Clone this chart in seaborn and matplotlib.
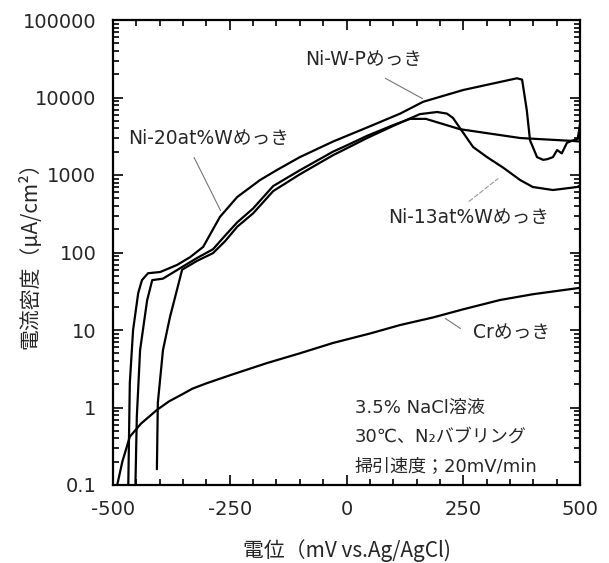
import numpy as np
import pandas as pd
import matplotlib
matplotlib.use("Agg")
import matplotlib.pyplot as plt
from matplotlib.ticker import FixedLocator, LogLocator, NullFormatter, MultipleLocator
import seaborn as sns

# ---------------- data ----------------
niwp_x = [-468, -464, -457, -446, -438, -425, -399, -363, -335, -307, -271, -234,
          -185, -149, -100, -29, 44, 115, 164, 250, 365, 376, 386, 393, 399, 408,
          421, 430, 442, 451, 461, 472, 485, 495, 500]
niwp_y = [0.05, 2.07, 10, 30, 44, 54, 56, 69, 87, 118, 288, 520,
          862, 1160, 1700, 2700, 4100, 6200, 8800, 12500, 17700, 17000, 6900, 2800, 2300, 1700,
          1570, 1600, 1700, 2100, 1900, 2600, 2800, 2900, 4500]

ni20_x = [-453, -449, -442, -427, -416, -393, -352, -320, -286, -260, -234, -200,
          -157, -100, -29, 0, 44, 100, 136, 170, 243, 372, 485, 500]
ni20_y = [0.05, 0.76, 5.5, 24, 44, 46, 65, 85, 110, 165, 245, 370,
          720, 1150, 2000, 2400, 3200, 4400, 5300, 5300, 3900, 3000, 2750, 2700]

ni13_x = [-406, -404, -393, -378, -363, -352, -320, -286, -260, -234, -200, -157,
          -100, -29, 0, 44, 100, 157, 194, 215, 228, 250, 271, 301, 335, 372, 399,
          442, 494, 500]
ni13_y = [0.16, 1.15, 5.5, 14.7, 33, 60, 78, 98, 140, 215, 320, 620,
          1020, 1800, 2200, 3000, 4300, 6100, 6500, 6200, 5450, 3500, 2300, 1700, 1250, 860, 700,
          640, 700, 730]

cr_x = [-495, -491, -480, -464, -440, -406, -380, -350, -330, -300, -250, -170, -100, -29,
        50, 115, 185, 250, 329, 400, 500]
cr_y = [0.07, 0.1, 0.2, 0.42, 0.62, 0.93, 1.2, 1.5, 1.75, 2.05, 2.6, 3.75, 5.0, 6.8,
        9.0, 11.6, 14.5, 18.5, 24.4, 29, 35]

series_names = ["Ni-W-Pめっき", "Ni-20at%Wめっき", "Ni-13at%Wめっき", "Crめっき"]

y_ticks = [0.1, 1, 10, 100, 1000, 10000, 100000]
y_tick_labels = ["0.1", "1", "10", "100", "1000", "10000", "100000"]
x_ticks = [-500, -250, 0, 250, 500]
x_tick_labels = ["-500", "-250", "0", "250", "500"]

x_label = "電位（mV vs.Ag/AgCl)"
y_label = "電流密度（μA/cm²）"
cond_lines = ["3.5% NaCl溶液", "30℃、N₂バブリング", "掃引速度；20mV/min"]

# ---------------- build long table ----------------
frames = []
for name, xs, ys in zip(series_names,
                        [niwp_x, ni20_x, ni13_x, cr_x],
                        [niwp_y, ni20_y, ni13_y, cr_y]):
    frames.append(pd.DataFrame({"E": xs, "I": ys, "sample": name}))
df = pd.concat(frames, ignore_index=True)

# ---------------- style ----------------
sns.set_theme(style="ticks")
FAM = ["DejaVu Sans", "Noto Sans CJK JP"]
JFAM = ["Noto Sans CJK JP", "DejaVu Sans"]
plt.rcParams["font.family"] = FAM
plt.rcParams["axes.unicode_minus"] = False

fig = plt.figure(figsize=(6.09, 5.63), dpi=100)
ax = fig.add_axes([113 / 609, 1 - 485 / 563, (580 - 113) / 609, (485 - 20) / 563])

sns.lineplot(data=df, x="E", y="I", hue="sample", units="sample",
             palette=["black"] * 4, sort=False, estimator=None,
             legend=False, linewidth=1.6, ax=ax)

ax.set_yscale("log")
ax.set_xlim(-500, 500)
ax.set_ylim(0.1, 100000)

ax.yaxis.set_major_locator(FixedLocator(y_ticks))
ax.set_yticklabels(y_tick_labels)
ax.yaxis.set_minor_locator(LogLocator(base=10, subs=np.arange(2, 10), numticks=20))
ax.yaxis.set_minor_formatter(NullFormatter())
ax.xaxis.set_major_locator(FixedLocator(x_ticks))
ax.set_xticklabels(x_tick_labels)
ax.xaxis.set_minor_locator(MultipleLocator(50))

for sp in ax.spines.values():
    sp.set_visible(True)
    sp.set_linewidth(1.6)
    sp.set_color("black")

ax.tick_params(axis="both", which="both", direction="in", top=True, right=True,
               color="black", width=1.2)
ax.tick_params(axis="both", which="major", length=7, labelsize=14)
ax.tick_params(axis="both", which="minor", length=4)
ax.tick_params(axis="y", which="major", pad=12)
ax.tick_params(axis="x", which="major", pad=11)

ax.set_xlabel(x_label, fontsize=15, family=JFAM, va="center")
ax.xaxis.set_label_coords(0.5, -0.14)
ax.set_ylabel(y_label, fontsize=15, family=JFAM, va="center")
ax.yaxis.set_label_coords(-0.178, 0.505)
ax.set_facecolor("white")
fig.patch.set_facecolor("white")

# ---------------- annotations ----------------
lead = dict(arrowstyle="-", color="#777777", lw=0.8)
tfs = 13.5

ax.text(-89, 30500, series_names[0], ha="left", va="center", fontsize=tfs)
ax.annotate("", xy=(168, 9290), xytext=(78, 18400), arrowprops=lead)

ax.text(-468, 3000, series_names[1], ha="left", va="center", fontsize=tfs)
ax.annotate("", xy=(-267, 323), xytext=(-329, 1810), arrowprops=lead)

ax.text(89, 287, series_names[2], ha="left", va="center", fontsize=tfs)
ax.annotate("", xy=(329, 942), xytext=(258, 435),
            arrowprops=dict(arrowstyle="-", color="#999999", lw=0.8, linestyle=(0, (4, 2))))

ax.text(271, 9.15, series_names[3], ha="left", va="center", fontsize=tfs)
ax.annotate("", xy=(207, 14.7), xytext=(249, 10), arrowprops=lead)

for txt, yv in zip(cond_lines, [0.987, 0.416, 0.176]):
    ax.text(18, yv, txt, ha="left", va="center", fontsize=13)

fig.savefig("out.png", dpi=100, facecolor="white")
